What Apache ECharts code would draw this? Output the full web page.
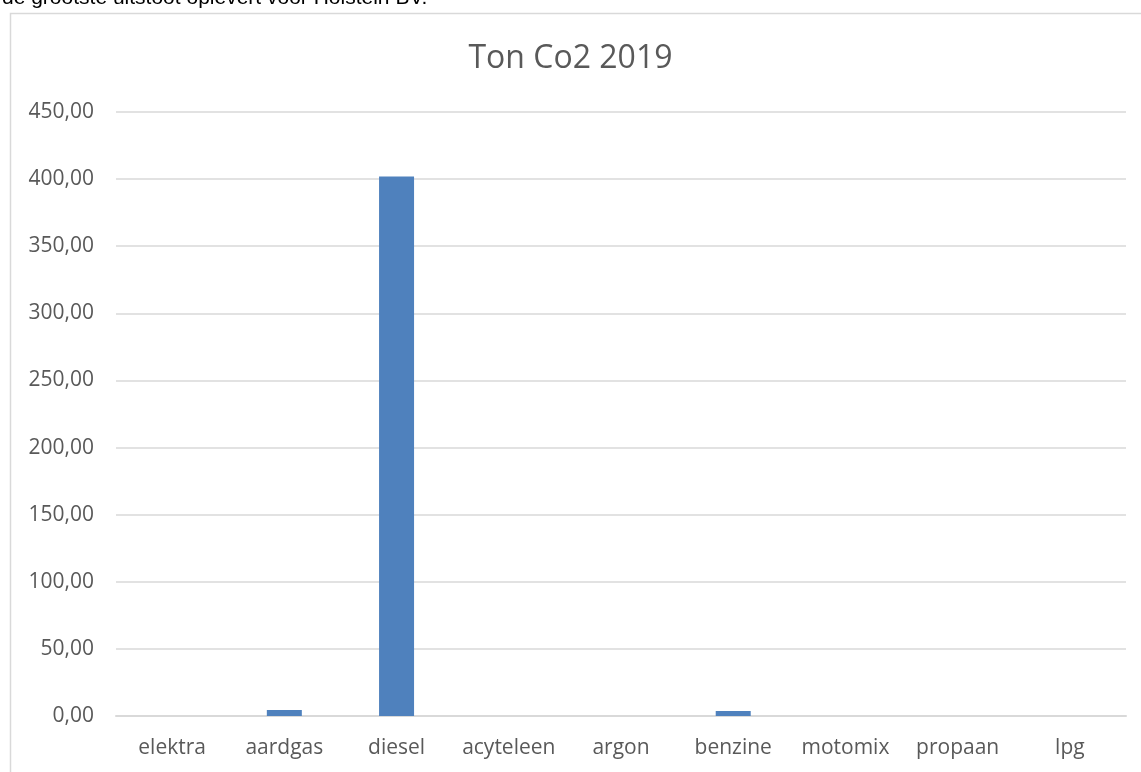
<!DOCTYPE html>
<html>
<head>
<meta charset="utf-8">
<script src="https://cdn.jsdelivr.net/npm/echarts@6/dist/echarts.min.js"></script>
<style>html,body{margin:0;padding:0;background:#fff;overflow:hidden}#c{width:1141px;height:772px}</style>
</head>
<body>
<div id="c"></div>
<script>
const categories = ['elektra','aardgas','diesel','acyteleen','argon','benzine','motomix','propaan','lpg'];
const values = [0, 4.5, 402, 0, 0, 3.7, 0, 0, 0];
const yTicks = { min: 0, max: 450, interval: 50 };
const titleText = 'Ton Co2 2019';
const topText = 'de grootste uitstoot oplevert voor Holstein BV.';

const chart = echarts.init(document.getElementById('c'));
const font = '"Open Sans", sans-serif';
chart.setOption({
  animation: false,
  backgroundColor: '#fff',
  title: {
    text: titleText, left: 'center', top: 38,
    textStyle: { fontFamily: font, fontSize: 32, fontWeight: 'normal', color: '#595959' }
  },
  graphic: [
    { type: 'rect', shape: { x: 10.5, y: 13.5, width: 1200, height: 800 },
      style: { fill: 'none', stroke: '#D9D9D9', lineWidth: 1.5 }, z: -1 },
    { type: 'text', left: 2, top: -12,
      style: { text: topText, font: '21px "Liberation Sans", Arial, sans-serif', fill: '#000' } }
  ],
  grid: { left: 116, right: 15, top: 112, bottom: 56, containLabel: false },
  xAxis: {
    type: 'category', data: categories,
    axisLine: { lineStyle: { color: '#D9D9D9', width: 2 } },
    axisTick: { show: false },
    axisLabel: { color: '#595959', fontFamily: font, fontSize: 21, margin: 22, interval: 0 }
  },
  yAxis: {
    type: 'value', min: yTicks.min, max: yTicks.max, interval: yTicks.interval,
    axisLine: { show: false }, axisTick: { show: false },
    splitLine: { lineStyle: { color: '#D9D9D9', width: 1.5 } },
    axisLabel: { color: '#595959', fontFamily: font, fontSize: 21, margin: 22,
      formatter: v => v.toFixed(2).replace('.', ',') }
  },
  series: [{
    type: 'bar', data: values, barWidth: 35,
    itemStyle: { color: '#4F81BD' }
  }]
});
</script>
</body>
</html>
